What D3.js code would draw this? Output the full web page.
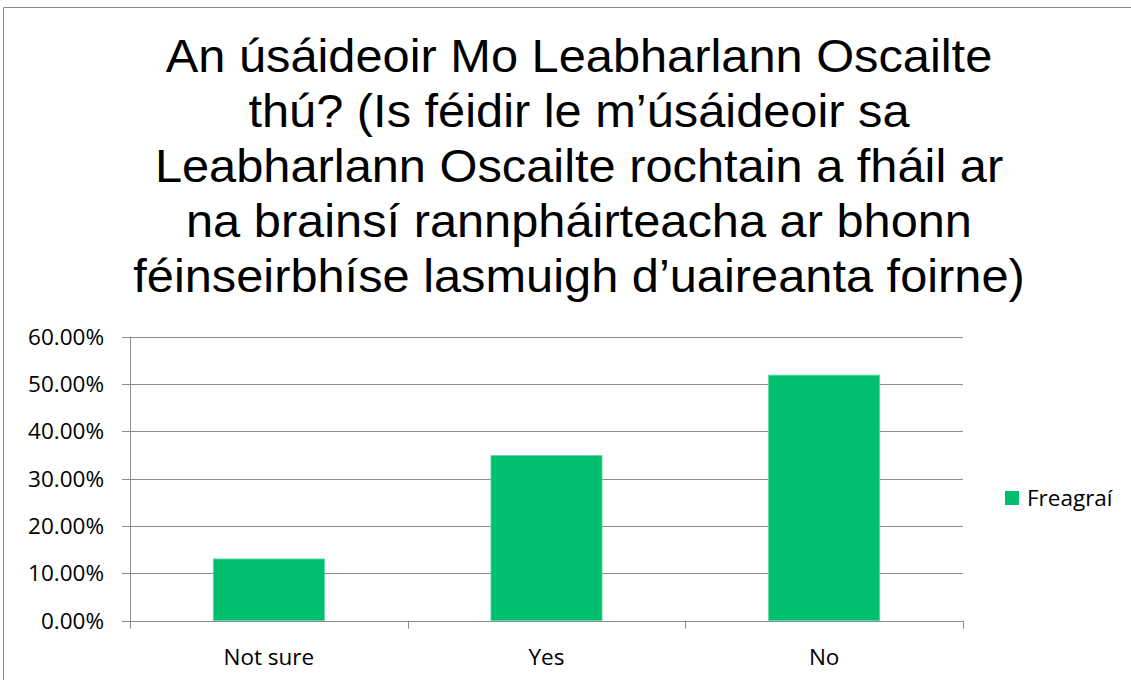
<!DOCTYPE html>
<html>
<head>
<meta charset="utf-8">
<script src="https://cdn.jsdelivr.net/npm/d3@7"></script>
<style>
  html, body { margin: 0; padding: 0; background: #fff; }
  svg { display: block; }
</style>
</head>
<body>
<svg id="chart" width="1131" height="680"></svg>
<script>
const categories = ["Not sure", "Yes", "No"];
const values = [13.04, 34.88, 51.88];
const seriesName = "Freagraí";
const yTicks = [0, 10, 20, 30, 40, 50, 60];
const titleLines = [
  "An úsáideoir Mo Leabharlann Oscailte",
  "thú? (Is féidir le m’úsáideoir sa",
  "Leabharlann Oscailte rochtain a fháil ar",
  "na brainsí rannpháirteacha ar bhonn",
  "féinseirbhíse lasmuigh d’uaireanta foirne)"
];

const svg = d3.select("#chart");
const barColor = "#00BF6F";
const gridColor = "#8c8c8c";
const labelFont = "'Open Sans', Lato, sans-serif";

// chart border
svg.append("path")
  .attr("d", "M3.5,680 L3.5,7.5 L1131,7.5")
  .attr("fill", "none").attr("stroke", "#8a8a8a").attr("stroke-width", 1);

// title (slightly stretched horizontally like the reference)
const tcx = 579;
svg.append("g")
  .attr("transform", `translate(${tcx},0) scale(1.06,1)`)
  .selectAll("text").data(titleLines).join("text")
  .attr("x", 0).attr("y", (d, i) => 72 + i * 55)
  .attr("text-anchor", "middle")
  .style("font-family", "'Liberation Sans', Arial, Arimo, Helvetica, sans-serif")
  .attr("font-size", 46).attr("fill", "#000")
  .text(d => d);

const plot = { left: 130, right: 963, top: 336.7, bottom: 620.7 };

const x = d3.scaleBand().domain(categories)
  .range([plot.left, plot.right]).paddingInner(0.6).paddingOuter(0.3);
const xb = d3.scaleBand().domain(categories).range([plot.left, plot.right]);
const y = d3.scaleLinear().domain([0, 60]).range([plot.bottom, plot.top]);

// gridlines
svg.append("g").selectAll("line").data(yTicks).join("line")
  .attr("x1", plot.left - 8).attr("x2", plot.right)
  .attr("y1", d => Math.round(y(d)) + 0.5).attr("y2", d => Math.round(y(d)) + 0.5)
  .attr("stroke", gridColor).attr("stroke-width", 1);

// y axis line
svg.append("line")
  .attr("x1", plot.left + 0.5).attr("x2", plot.left + 0.5)
  .attr("y1", plot.top).attr("y2", plot.bottom)
  .attr("stroke", gridColor);

// x category ticks
const bounds = [plot.left, ...categories.map(c => xb(c) + xb.bandwidth())];
svg.append("g").selectAll("line").data(bounds).join("line")
  .attr("x1", d => Math.round(d) + 0.5).attr("x2", d => Math.round(d) + 0.5)
  .attr("y1", plot.bottom).attr("y2", plot.bottom + 8)
  .attr("stroke", gridColor);

// y labels
svg.append("g").selectAll("text").data(yTicks).join("text")
  .attr("x", 104).attr("y", d => y(d) + 8)
  .attr("text-anchor", "end")
  .attr("font-family", labelFont).attr("font-size", 22.5).attr("fill", "#000")
  .text(d => d3.format(".2f")(d) + "%");

// bars
svg.append("g").selectAll("rect").data(values).join("rect")
  .attr("x", (d, i) => x(categories[i]))
  .attr("y", d => y(d))
  .attr("width", x.bandwidth())
  .attr("height", d => plot.bottom - y(d))
  .attr("fill", barColor)
  .attr("stroke", "#5fd6a3").attr("stroke-width", 0.8);

// x labels
svg.append("g").selectAll("text").data(categories).join("text")
  .attr("x", d => xb(d) + xb.bandwidth() / 2).attr("y", 665)
  .attr("text-anchor", "middle")
  .attr("font-family", labelFont).attr("font-size", 22.5).attr("fill", "#000")
  .text(d => d);

// legend
const lg = svg.append("g");
lg.append("rect").attr("x", 1005).attr("y", 491).attr("width", 14).attr("height", 14).attr("fill", barColor);
lg.append("text").attr("x", 1027).attr("y", 506)
  .attr("font-family", labelFont).attr("font-size", 22.5).attr("fill", "#000")
  .text(seriesName);
</script>
</body>
</html>
